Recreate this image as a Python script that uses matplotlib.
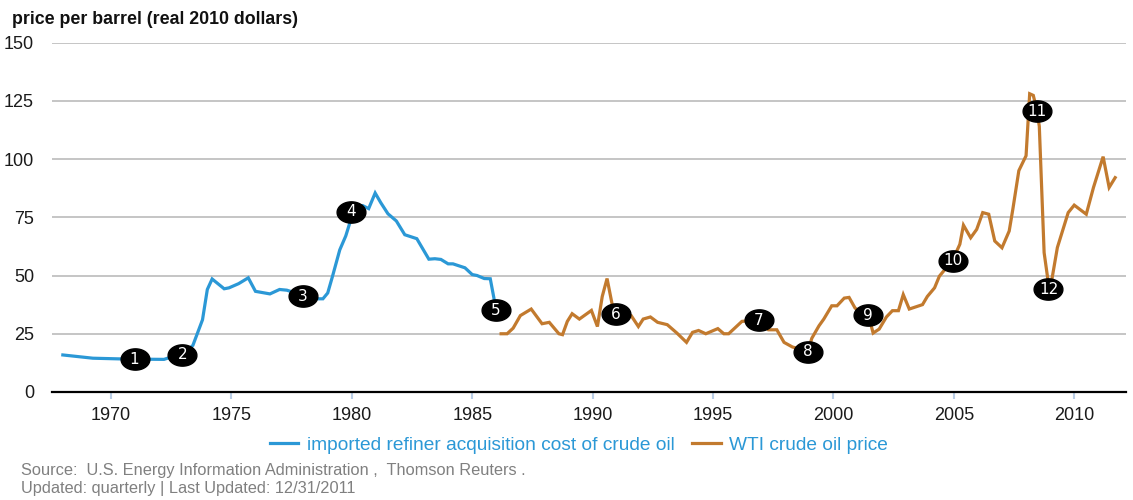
# Oil price chart (real 2010 dollars)

import numpy as np
import matplotlib.pyplot as plt
from matplotlib.path import Path

plt.rcParams['font.family'] = ['Liberation Sans', 'DejaVu Sans']

# Data
refiner_years = [1968.0, 1969.25, 1970.4, 1971.0, 1972.2, 1972.5, 1973.0, 1973.4, 1973.8, 1974.0,
                 1974.2, 1974.7, 1974.9, 1975.3, 1975.7, 1976.0, 1976.6, 1977.0, 1977.3, 1978.0,
                 1978.6, 1978.8, 1979.0, 1979.2, 1979.5, 1979.75, 1979.96, 1980.2, 1980.45, 1980.7,
                 1980.97, 1981.2, 1981.5, 1981.85, 1982.2, 1982.7, 1983.2, 1983.45, 1983.7, 1984.0,
                 1984.2, 1984.7, 1985.0, 1985.2, 1985.5, 1985.75, 1985.9, 1986.0]
refiner_price = [15.9, 14.5, 14.2, 14.1, 14.0, 15.0, 16.0, 20.0, 31.0, 44.0,
                 48.5, 44.3, 44.7, 46.5, 49.0, 43.2, 42.1, 44.0, 43.7, 41.4,
                 40.0, 40.0, 42.5, 49.7, 61.0, 67.0, 74.0, 79.5, 80.0, 78.7,
                 85.4, 81.3, 76.5, 73.4, 67.5, 65.8, 57.0, 57.2, 56.9, 55.0,
                 55.0, 53.3, 50.4, 50.0, 48.7, 48.6, 40.4, 33.0]

wti_years = [1986.2, 1986.45, 1986.7, 1987.0, 1987.45, 1987.9, 1988.2, 1988.6, 1988.75, 1988.95,
             1989.15, 1989.45, 1989.95, 1990.2, 1990.4, 1990.6, 1990.8, 1990.95, 1991.45, 1991.6,
             1991.9, 1992.1, 1992.4, 1992.7, 1993.1, 1993.5, 1993.9, 1994.15, 1994.4, 1994.7,
             1995.2, 1995.45, 1995.65, 1996.2, 1996.9, 1997.3, 1997.65, 1997.95, 1998.3, 1998.6,
             1998.95, 1999.1, 1999.4, 1999.6, 1999.93, 2000.15, 2000.45, 2000.65, 2000.9, 2001.2,
             2001.45, 2001.65, 2001.9, 2002.2, 2002.45, 2002.7, 2002.9, 2003.15, 2003.7, 2003.9,
             2004.2, 2004.4, 2004.95, 2005.25, 2005.4, 2005.7, 2005.95, 2006.2, 2006.45, 2006.7,
             2007.0, 2007.3, 2007.45, 2007.7, 2008.0, 2008.15, 2008.3, 2008.45, 2008.55, 2008.75,
             2008.95, 2009.0, 2009.3, 2009.75, 2010.0, 2010.5, 2010.8, 2011.2, 2011.45, 2011.7]
wti_price = [25.0, 25.0, 27.4, 32.8, 35.6, 29.3, 29.9, 25.0, 24.6, 30.3,
             33.6, 31.3, 35.0, 28.1, 41.0, 48.7, 38.2, 33.6, 33.0, 32.8,
             28.1, 31.3, 32.2, 29.9, 28.9, 25.3, 21.3, 25.6, 26.4, 25.0,
             27.2, 25.0, 25.0, 30.3, 31.0, 26.7, 26.7, 21.3, 19.3, 18.5,
             17.4, 23.0, 28.4, 31.3, 37.0, 37.0, 40.3, 40.6, 36.0, 34.0,
             33.0, 25.3, 27.0, 32.2, 34.9, 34.9, 41.8, 35.6, 37.5, 41.0,
             44.7, 49.7, 56.6, 63.4, 71.6, 66.2, 69.8, 77.0, 76.3, 64.8,
             61.9, 69.1, 78.4, 95.0, 101.4, 128.0, 127.3, 121.0, 114.0, 59.8,
             45.0, 44.0, 62.0, 77.0, 80.2, 76.3, 87.8, 101.0, 87.8, 92.0]

event_labels = ["1", "2", "3", "4", "5", "6", "7", "8", "9", "10", "11", "12"]
event_years = [1970.98, 1972.96, 1977.97, 1979.95, 1985.98, 1990.96, 1996.91, 1998.95,
               2001.44, 2004.95, 2008.44, 2008.93]
event_price = [14.1, 15.9, 41.1, 77.3, 35.1, 33.4, 30.9, 17.3, 32.9, 56.3, 120.4, 44.0]

x_ticks = [1970, 1975, 1980, 1985, 1990, 1995, 2000, 2005, 2010]
y_ticks = [0, 25, 50, 75, 100, 125, 150]

blue = "#2b98d6"
orange = "#c27a2e"

# Plotting
fig = plt.figure(figsize=(11.33, 5.0), dpi=100)
ax = fig.add_axes([52 / 1133, 1 - 392 / 500, (1126 - 52) / 1133, (392 - 42.5) / 500])

ax.plot(refiner_years, refiner_price, color=blue, linewidth=2.3, solid_joinstyle="miter",
        label="imported refiner acquisition cost of crude oil", zorder=3)
ax.plot(wti_years, wti_price, color=orange, linewidth=2.3, solid_joinstyle="miter",
        label="WTI crude oil price", zorder=3)

# numbered event markers (ellipses)
t = np.linspace(0, 2 * np.pi, 60)
ellipse = Path(np.column_stack([np.cos(t), 0.74 * np.sin(t)]))
ax.scatter(event_years, event_price, marker=ellipse, s=430, color="black", zorder=4)
for lab, xx, yy in zip(event_labels, event_years, event_price):
    ax.text(xx, yy, lab, color="white", fontsize=11, ha="center", va="center",
            family="DejaVu Sans", zorder=5)

ax.set_xlim(1967.55, 2012.15)
ax.set_ylim(0, 150)
ax.set_xticks(x_ticks)
ax.set_yticks(y_ticks)
ax.tick_params(axis="x", length=5, width=1.5, color="#b9cde5", pad=6, labelsize=13,
               labelcolor="#1a1a1a")
ax.tick_params(axis="y", length=0, pad=13, labelsize=13, labelcolor="#1a1a1a")
ax.grid(axis="y", color="#c0c0c0", linewidth=1.3)
ax.set_axisbelow(True)
for side in ["top", "right", "left"]:
    ax.spines[side].set_visible(False)
ax.spines["bottom"].set_color("black")
ax.spines["bottom"].set_linewidth(1.6)
ax.spines["bottom"].set_zorder(2)

ax.legend(loc="center", bbox_to_anchor=(579 / 1133, 1 - 445 / 500), bbox_transform=fig.transFigure,
          ncol=2, frameon=False, fontsize=13.8, labelcolor=blue, handlelength=1.5,
          handletextpad=0.45, columnspacing=0.9)

fig.text(12 / 1133, 1 - 19 / 500, "price per barrel (real 2010 dollars)", fontsize=12.8,
         fontweight="bold", ha="left", va="center", color="#111111")
fig.text(21 / 1133, 1 - 470 / 500,
         "Source:  U.S. Energy Information Administration ,  Thomson Reuters .",
         fontsize=11.8, color="#808080", ha="left", va="center")
fig.text(21 / 1133, 1 - 488 / 500, "Updated: quarterly | Last Updated: 12/31/2011",
         fontsize=11.8, color="#808080", ha="left", va="center")

fig.savefig("out.png", dpi=100)
